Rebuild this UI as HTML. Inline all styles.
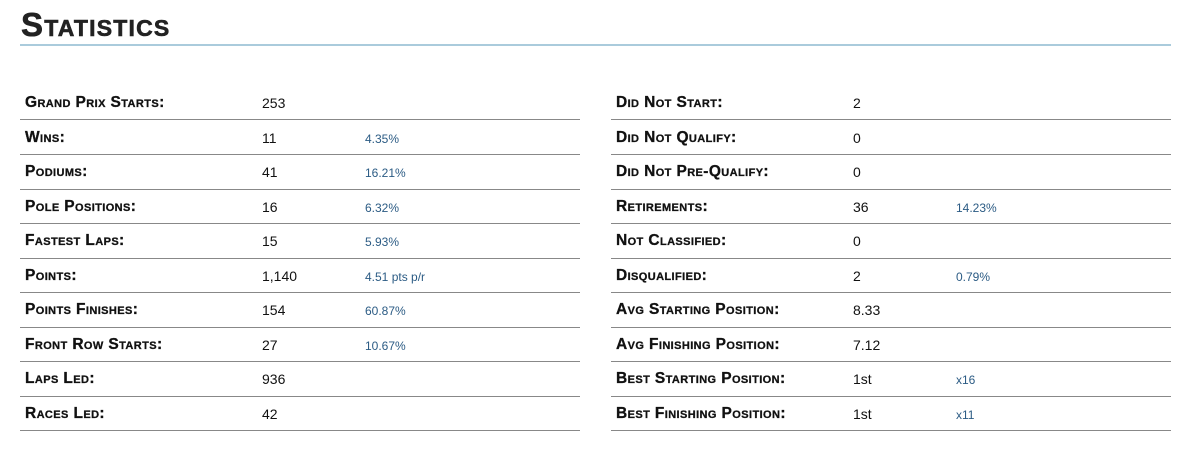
<!DOCTYPE html>
<html><head><meta charset="utf-8"><style>
body{margin:0;width:1199px;height:466px;background:#fff;font-family:"Liberation Sans",sans-serif;position:relative;overflow:hidden}
h1{position:absolute;left:21px;top:6px;margin:0;font-size:33px;font-weight:bold;font-variant:small-caps;color:#222;letter-spacing:1.2px;-webkit-text-stroke:0.6px #222}
.rule{position:absolute;left:20px;top:44px;width:1151px;height:2px;background:#aacbdc}
.row{position:absolute;height:34px;border-bottom:1px solid #888;box-sizing:border-box}
.row span{position:absolute;top:9px;white-space:nowrap}
.lab{left:5px;top:8px!important;font-weight:bold;font-variant:small-caps;font-size:15.5px;letter-spacing:0.4px;color:#111;-webkit-text-stroke:0.3px #111}
.val{font-size:14px;color:#111}
.pct{font-size:12px;color:#2b5b84;top:11px!important}
</style></head><body>
<h1>Statistics</h1>
<div class="rule"></div>
<div id="t"></div>
<script>
const leftRows=[["Grand Prix Starts:","253",""],["Wins:","11","4.35%"],["Podiums:","41","16.21%"],["Pole Positions:","16","6.32%"],["Fastest Laps:","15","5.93%"],["Points:","1,140","4.51 pts p/r"],["Points Finishes:","154","60.87%"],["Front Row Starts:","27","10.67%"],["Laps Led:","936",""],["Races Led:","42",""]];
const rightRows=[["Did Not Start:","2",""],["Did Not Qualify:","0",""],["Did Not Pre-Qualify:","0",""],["Retirements:","36","14.23%"],["Not Classified:","0",""],["Disqualified:","2","0.79%"],["Avg Starting Position:","8.33",""],["Avg Finishing Position:","7.12",""],["Best Starting Position:","1st","x16"],["Best Finishing Position:","1st","x11"]];
const t=document.getElementById('t');
function build(rows,x,side){
rows.forEach((r,i)=>{
const d=document.createElement('div');d.className='row';


const top=86+i*34.5;d.style.top=top+'px';d.style.left=x+'px';d.style.width='560px';d.style.height=(i==0?34:34.5)+'px';
const a=document.createElement('span');a.className='lab';a.textContent=r[0];


const b=document.createElement('span');b.className='val';b.textContent=r[1];b.style.left='242px';


d.appendChild(a);d.appendChild(b);
if(r[2]){const c=document.createElement('span');c.className='pct';c.textContent=r[2];c.style.left='345px';


d.appendChild(c);}
t.appendChild(d);});
}
build(leftRows,20,'left');build(rightRows,611,'right');
</script>
</body></html>
